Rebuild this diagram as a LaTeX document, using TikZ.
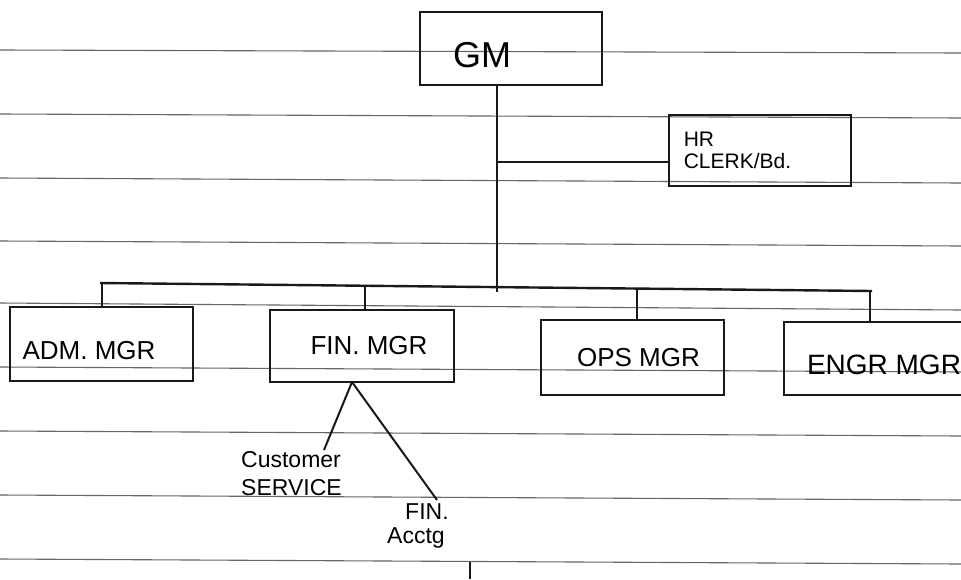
\documentclass[tikz,border=0pt]{standalone}
\usepackage{fontspec}
\setmainfont{Liberation Sans}
\usetikzlibrary{calc}
\begin{document}
\begin{tikzpicture}[x=1pt,y=-1pt,
  ink/.style={draw=black!90,line width=2.4pt},
  rule/.style={draw=black!60,line width=1.1pt},
  box/.style={ink,rectangle,inner sep=0pt,font=\fontsize{26}{28}\selectfont},
  lbl/.style={font=\fontsize{23}{24}\selectfont,align=left,inner sep=1pt}]
\useasboundingbox (0,0) rectangle (961,579);
\fill[white] (0,0) rectangle (961,579);
% ruled paper
\foreach \ya/\yb in {50/53,114/118,178/183,241/246,303/310,367/372,431/436,495/500,559/564}
  \draw[rule] (0,\ya) -- (961,\yb);
% boxes
\node[box,minimum width=182pt,minimum height=73pt,font=\fontsize{36}{38}\selectfont] (gm) at (511,48.5) {\raisebox{-19pt}[0pt][0pt]{GM}\hspace*{58pt}};
\node[box,minimum width=182pt,minimum height=71pt,align=left,font=\fontsize{21}{22}\selectfont] (hr) at (760,150.5) {HR\\CLERK/Bd.\hspace*{45pt}};
\node[box,minimum width=183pt,minimum height=74pt] (adm) at (101.5,344) {\raisebox{-15pt}[0pt][0pt]{ADM. MGR}\hspace*{25pt}};
\node[box,minimum width=184pt,minimum height=72pt] (fin) at (362,346) {\hspace*{14pt}FIN. MGR};
\node[box,minimum width=183pt,minimum height=75pt] (ops) at (632.5,357.5) {\hspace*{12pt}OPS MGR};
\node[box,minimum width=200pt,minimum height=73pt,font=\fontsize{28}{30}\selectfont] (engr) at (884,358.5) {\raisebox{-16pt}[0pt][0pt]{ENGR MGR}};
% bus
\coordinate (bl) at (100,283);
\coordinate (br) at (872,291);
\coordinate (tg) at (497,287);
\coordinate (ta) at (102,283);
\coordinate (tf) at (365,286);
\coordinate (to) at (637,289);
\coordinate (te) at (870,291);
\coordinate (th) at (497,162);
\draw[ink] (bl) -- (br);
\draw[ink] (gm.south -| tg) -- ($(tg)+(0,5)$);
\draw[ink] (th) -- (th -| hr.west);
\draw[ink] (ta) -- (ta |- adm.north);
\draw[ink] (tf) -- (tf |- fin.north);
\draw[ink] (to) -- (to |- ops.north);
\draw[ink] (te) -- (te |- engr.north);
% sub units
\node[lbl,anchor=north west] (cs) at (240,450) {Customer\\[4pt]SERVICE};
\node[lbl,anchor=north west] (fa) at (386,502) {\hspace*{18pt}FIN.\\Acctg};
\coordinate (fb) at (352,382);
\coordinate (csend) at (324,450);
\coordinate (faend) at (437,500);
\draw[ink,line width=2pt] (fb) -- (csend);
\draw[ink,line width=2pt] (fb) -- (faend);
\coordinate (fad) at (470,562);
\draw[ink,line width=2pt] (fad) -- (470,579);
\end{tikzpicture}
\end{document}
